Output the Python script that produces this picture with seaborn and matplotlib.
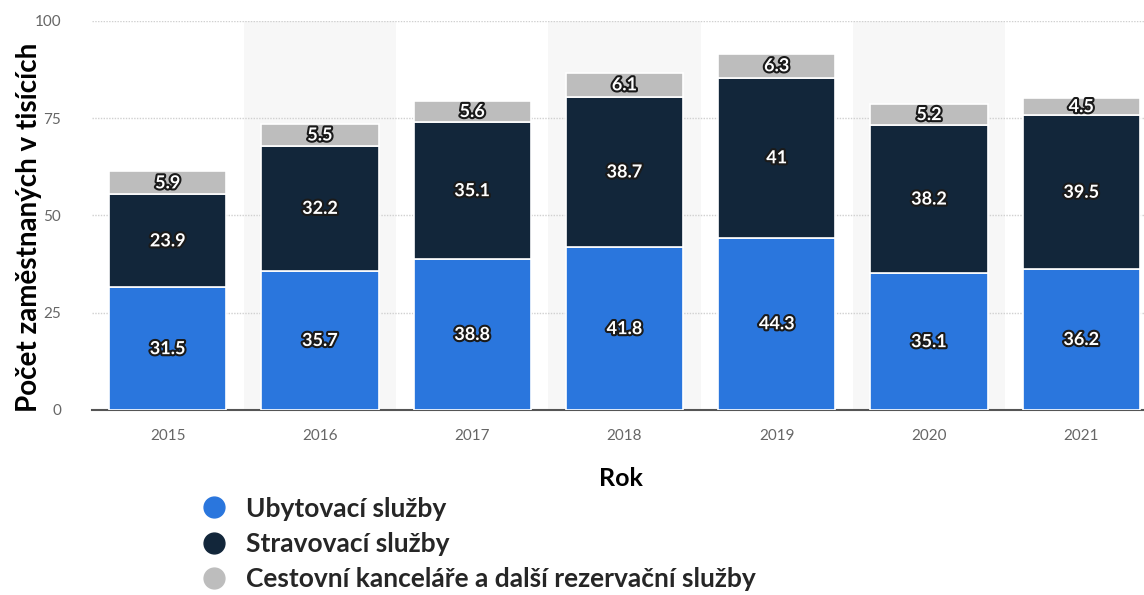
import matplotlib
matplotlib.use("Agg")
import matplotlib.pyplot as plt
import matplotlib.patheffects as pe
from matplotlib.lines import Line2D
import numpy as np
import seaborn as sns

years = ["2015", "2016", "2017", "2018", "2019", "2020", "2021"]
ubytovaci = [31.5, 35.7, 38.8, 41.8, 44.3, 35.1, 36.2]
stravovaci = [23.9, 32.2, 35.1, 38.7, 41.0, 38.2, 39.5]
cestovni = [5.9, 5.5, 5.6, 6.1, 6.3, 5.2, 4.5]
series_names = ["Ubytovací služby", "Stravovací služby",
                "Cestovní kanceláře a další rezervační služby"]
colors = ["#2A76DD", "#12263A", "#BDBDBD"]

sns.set_theme(style="white")
plt.rcParams['font.family'] = ['Lato', 'DejaVu Sans']

fig = plt.figure(figsize=(11.44, 5.95), dpi=100)
ax = fig.add_axes([0.080, 0.311, 0.925, 0.654])

# alternating shaded columns
for i in range(1, len(years), 2):
    ax.axvspan(i - 0.5, i + 0.5, color="#F7F7F7", zorder=0, lw=0)

bottoms = np.zeros(len(years))
for vals, col in zip([ubytovaci, stravovaci, cestovni], colors):
    sns.barplot(x=years, y=vals, bottom=bottoms, color=col, width=0.77,
                edgecolor="white", linewidth=1.2, saturation=1, ax=ax, zorder=3)
    for i, v in enumerate(vals):
        txt = f"{v:g}"
        ax.text(i, bottoms[i] + v / 2, txt, ha="center", va="center",
                color="white", fontsize=13, fontweight="bold", zorder=5,
                path_effects=[pe.withStroke(linewidth=3, foreground="#1a1a1a")])
    bottoms = bottoms + np.array(vals)

ax.set_xlim(-0.5, 6.45)
ax.set_ylim(0, 100)
ax.set_yticks([0, 25, 50, 75, 100])
ax.yaxis.grid(True, linestyle=(0, (1, 1)), color="#D0D0D0", lw=1)
ax.set_axisbelow(True)
for s in ["top", "right", "left"]:
    ax.spines[s].set_visible(False)
ax.spines["bottom"].set_color("#555555")
ax.spines["bottom"].set_linewidth(1.5)
ax.tick_params(axis="both", colors="#666666", labelsize=11, length=0)
ax.tick_params(axis="x", pad=14)
ax.tick_params(axis="y", pad=22)

ax.set_xlabel("Rok", fontsize=18, fontweight="bold", color="black", labelpad=17)
ax.set_ylabel("Počet zaměstnaných v tisících", fontsize=20, fontweight="bold",
              color="black")
ax.yaxis.set_label_coords(-0.047, 0.47)

handles = [Line2D([0], [0], marker="o", ls="", markersize=15,
                  markerfacecolor=c, markeredgecolor=c) for c in colors]
fig.legend(handles, series_names, loc="upper left", bbox_to_anchor=(0.155, 0.183),
           frameon=False, prop={"size": 19, "weight": "bold"},
           handletextpad=0.2, labelspacing=0.42, borderaxespad=0)

fig.savefig("out.png", dpi=100)
